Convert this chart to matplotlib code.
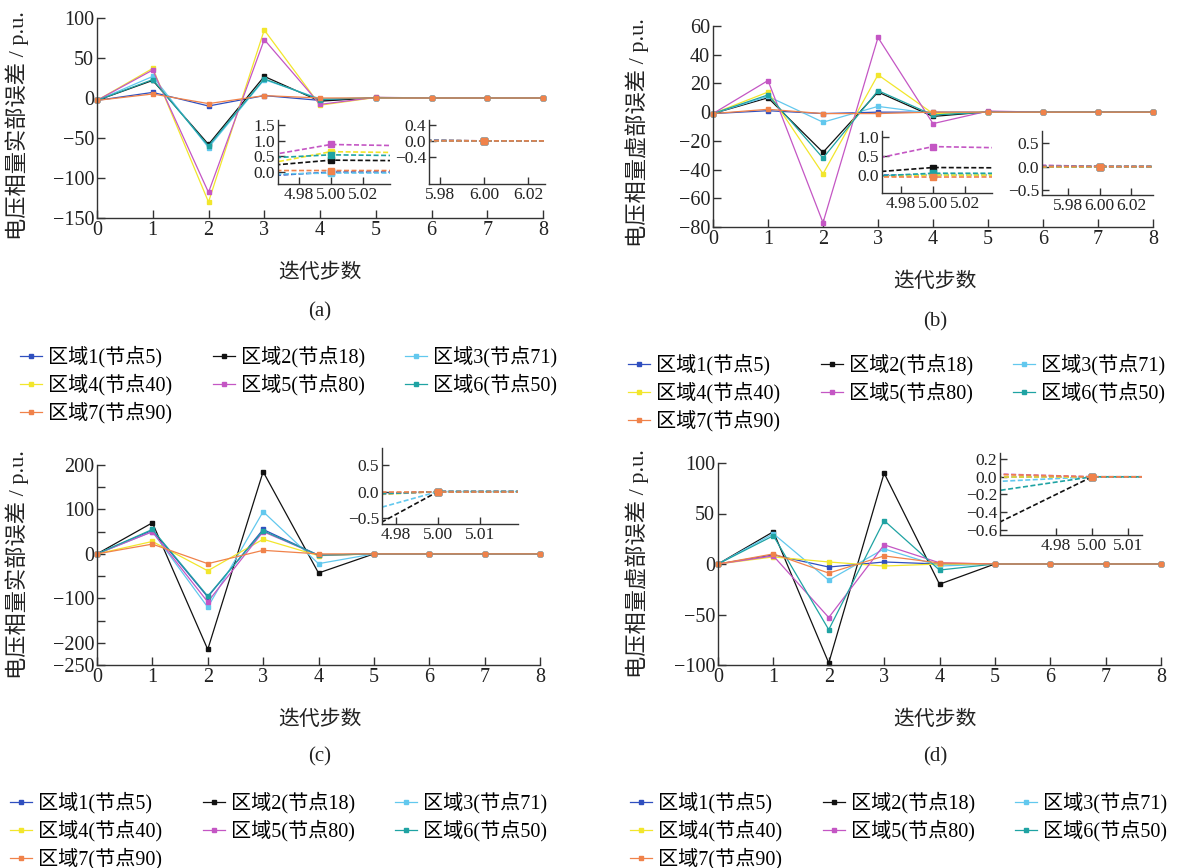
import matplotlib.pyplot as plt

plt.rcParams['font.family'] = ['Liberation Serif', 'Noto Sans CJK SC']
plt.rcParams['axes.unicode_minus'] = True

W, H = 1180, 868

steps = [0, 1, 2, 3, 4, 5, 6, 7, 8]
regions = ['区域1(节点5)', '区域2(节点18)', '区域3(节点71)', '区域4(节点40)',
           '区域5(节点80)', '区域6(节点50)', '区域7(节点90)']
colors = ['#2f4fbf', '#111111', '#62c8ee', '#f2e62c', '#c456c4', '#1fa3a3', '#f0824a']

# (a) real part error
a_reg1 = [-3, 7, -10, 3, -3, 0.0, 0, 0, 0]
a_reg2 = [-3, 22, -58, 27, -4, 0.38, 0, 0, 0]
a_reg3 = [-3, 27, -62, 23, -1, -0.03, 0, 0, 0]
a_reg4 = [-3, 37, -130, 85, -9, 0.65, 0, 0, 0]
a_reg5 = [-3, 35, -118, 73, -8, 0.88, 0, 0, 0]
a_reg6 = [-3, 23, -60, 24, -2, 0.55, 0, 0, 0]
a_reg7 = [-3, 5, -7, 3, 0, 0.05, 0, 0, 0]

# (b) imaginary part error
b_reg1 = [-1, 1, -1, 0, 0, 0.0, 0, 0, 0]
b_reg2 = [-1, 10, -28, 14, -3, 0.2, 0, 0, 0]
b_reg3 = [-1, 11, -7, 4, -1, 0.02, 0, 0, 0]
b_reg4 = [-1, 14, -43, 26, -1, 0.0, 0, 0, 0]
b_reg5 = [-1, 22, -77, 52, -8, 0.75, 0, 0, 0]
b_reg6 = [-1, 12, -32, 15, -2, 0.05, 0, 0, 0]
b_reg7 = [-1, 2, -1, -1, 0, -0.05, 0, 0, 0]

# (c) real part error
c_reg1 = [0, 53, -97, 55, -3, 0, 0, 0, 0]
c_reg2 = [0, 70, -215, 185, -43, 0, 0, 0, 0]
c_reg3 = [0, 50, -120, 95, -22, 0, 0, 0, 0]
c_reg4 = [0, 28, -38, 33, -4, 0, 0, 0, 0]
c_reg5 = [0, 50, -108, 50, -3, 0, 0, 0, 0]
c_reg6 = [0, 55, -95, 52, -3, 0, 0, 0, 0]
c_reg7 = [0, 22, -22, 8, 0, 0, 0, 0, 0]

# (d) imaginary part error
d_reg1 = [0, 9, -3, 2, 0, 0, 0, 0, 0]
d_reg2 = [0, 32, -98, 90, -20, 0, 0, 0, 0]
d_reg3 = [0, 30, -16, 15, -2, 0, 0, 0, 0]
d_reg4 = [0, 7, 2, -2, 0, 0, 0, 0, 0]
d_reg5 = [0, 8, -53, 19, 1.2, 0, 0, 0, 0]
d_reg6 = [0, 28, -65, 43, -6, 0, 0, 0, 0]
d_reg7 = [0, 10, -9, 8, 1, 0, 0, 0, 0]

panel_a = [a_reg1, a_reg2, a_reg3, a_reg4, a_reg5, a_reg6, a_reg7]
panel_b = [b_reg1, b_reg2, b_reg3, b_reg4, b_reg5, b_reg6, b_reg7]
panel_c = [c_reg1, c_reg2, c_reg3, c_reg4, c_reg5, c_reg6, c_reg7]
panel_d = [d_reg1, d_reg2, d_reg3, d_reg4, d_reg5, d_reg6, d_reg7]

ylab_re = '电压相量实部误差 / p.u.'
ylab_im = '电压相量虚部误差 / p.u.'
xlab = '迭代步数'


def rect(l, t, r, b):
    return [l / W, 1 - b / H, (r - l) / W, (b - t) / H]


def style(ax, size=14.5, tlen=6):
    for s in ['top', 'right']:
        ax.spines[s].set_visible(False)
    for s in ['left', 'bottom']:
        ax.spines[s].set_color('#333333')
        ax.spines[s].set_linewidth(1.0)
    ax.tick_params(direction='in', length=tlen, width=1.0, colors='#333333',
                   labelsize=size, labelcolor='#222222', pad=2)


def main_panel(box, series, ylim, yticks, ylabels, ylabel, lab_x, lab_y=0.5):
    ax = fig.add_axes(rect(*box))
    lines = []
    for vals, c in zip(series, colors):
        ln, = ax.plot(steps, vals, color=c, lw=0.9, marker='s', ms=2.5, clip_on=False)
        lines.append(ln)
    ax.set_xlim(0, 8)
    ax.set_ylim(*ylim)
    ax.set_xticks(steps)
    ax.set_yticks(yticks)
    ax.set_yticklabels(ylabels)
    style(ax)
    ax.set_ylabel(ylabel, fontsize=16, color='#222222')
    ax.yaxis.set_label_coords(lab_x, lab_y)
    return ax, lines


def inset(box, series, xlim, ylim, xticks, xlabels, yticks):
    ax = fig.add_axes(rect(*box))
    for vals, c in zip(series, colors):
        ax.plot(steps, vals, color=c, lw=1.2, ls=(0, (3, 1.5)), marker='s', ms=5)
    ax.set_xlim(*xlim)
    ax.set_ylim(*ylim)
    ax.set_xticks(xticks)
    ax.set_xticklabels(xlabels)
    ax.set_yticks(yticks)
    style(ax, size=12.5, tlen=5)
    ax.patch.set_alpha(0)
    return ax


def legend(lines, x, y):
    order = [0, 3, 6, 1, 4, 2, 5]
    fig.legend([lines[i] for i in order], [regions[i] for i in order],
               loc='upper left', bbox_to_anchor=(x / W, 1 - y / H), ncol=3,
               frameon=False, fontsize=14.5, handlelength=1.1, handletextpad=0.3,
               columnspacing=2.0, labelspacing=0.32, borderaxespad=0, borderpad=0,
               markerscale=1.0)


def captions(cx, y_xlab, y_cap, cap):
    fig.text(cx / W, 1 - y_xlab / H, xlab, ha='center', va='center', fontsize=15, color='#222222')
    fig.text(cx / W, 1 - y_cap / H, cap, ha='center', va='center', fontsize=15, color='#222222')


fig = plt.figure(figsize=(W / 100, H / 100), dpi=100)

# (a)
ax, lines = main_panel((97, 18, 543, 218), panel_a, (-150, 100),
                       [100, 50, 0, -50, -100, -150],
                       ['100', '50', '0', '\u221250', '\u2212100', '\u2212150'], ylab_re,
                       -0.152, 0.46)
inset((278, 120, 390, 184), panel_a, (4.967, 5.037), (-0.38, 1.66),
      [4.98, 5.00, 5.02], ['4.98', '5.00', '5.02'], [0.0, 0.5, 1.0, 1.5])
inset((429, 120, 545, 184), panel_a, (5.975, 6.0277), (-1.07, 0.52),
      [5.98, 6.00, 6.02], ['5.98', '6.00', '6.02'], [-0.4, 0.0, 0.4])
captions(320, 273, 312, '(a)')
legend(lines, 20, 346)

# (b)
ax, lines = main_panel((713, 26, 1153, 227), panel_b, (-80, 60),
                       [60, 40, 20, 0, -20, -40, -60, -80],
                       ['60', '40', '20', '0', '\u221220', '\u221240', '\u221260', '\u221280'],
                       ylab_im, -0.145, 0.47)
inset((882, 131, 992, 193), panel_b, (4.968, 5.037), (-0.47, 1.16),
      [4.98, 5.00, 5.02], ['4.98', '5.00', '5.02'], [0.0, 0.5, 1.0])
inset((1042, 131, 1153, 195), panel_b, (5.9634, 6.034), (-0.61, 0.76),
      [5.98, 6.00, 6.02], ['5.98', '6.00', '6.02'], [-0.5, 0.0, 0.5])
captions(935, 282, 322, '(b)')
legend(lines, 628, 354)

# (c)
ax, lines = main_panel((97, 465, 540, 665), panel_c, (-250, 200),
                       [200, 150, 100, 50, 0, -50, -100, -150, -200, -250],
                       ['200', '', '100', '', '0', '', '\u2212100', '', '\u2212200', '\u2212250'],
                       ylab_re, -0.153)
inset((382, 448, 518, 524), panel_c, (4.9867, 5.019), (-0.61, 0.82),
      [4.99, 5.00, 5.01], ['4.98', '5.00', '5.01'], [-0.5, 0.0, 0.5])
captions(320, 720, 757, '(c)')
legend(lines, 10, 792)

# (d)
ax, lines = main_panel((718, 463, 1161, 665), panel_d, (-100, 100),
                       [100, 50, 0, -50, -100],
                       ['100', '50', '0', '\u221250', '\u2212100'], ylab_im, -0.156)
inset((1000, 453, 1142, 535), panel_d, (4.9744, 5.0139), (-0.66, 0.27),
      [4.99, 5.00, 5.01], ['4.98', '5.00', '5.01'], [-0.6, -0.4, -0.2, 0.0, 0.2])
captions(935, 720, 757, '(d)')
legend(lines, 630, 792)

fig.savefig('out.png', dpi=100)
